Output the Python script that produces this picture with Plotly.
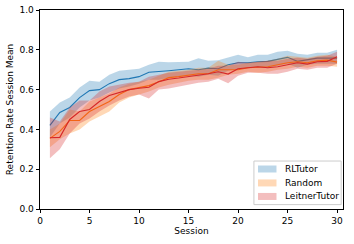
import plotly.graph_objects as go

sessions = list(range(1, 31))

rl_mean = [0.42, 0.485, 0.51, 0.56, 0.595, 0.60, 0.63, 0.65, 0.655, 0.665, 0.687, 0.69, 0.695, 0.70, 0.705,
           0.70, 0.708, 0.705, 0.725, 0.735, 0.735, 0.74, 0.742, 0.752, 0.762, 0.742, 0.75, 0.758, 0.758, 0.758]
rl_upper = [0.49, 0.535, 0.56, 0.61, 0.645, 0.64, 0.675, 0.695, 0.70, 0.705, 0.725, 0.74, 0.738, 0.74, 0.74,
            0.758, 0.745, 0.748, 0.76, 0.775, 0.762, 0.775, 0.775, 0.79, 0.795, 0.78, 0.775, 0.785, 0.785, 0.80]
rl_lower = [0.36, 0.43, 0.46, 0.51, 0.545, 0.56, 0.585, 0.605, 0.615, 0.63, 0.65, 0.65, 0.66, 0.665, 0.67,
            0.665, 0.675, 0.67, 0.695, 0.705, 0.71, 0.71, 0.71, 0.72, 0.73, 0.71, 0.725, 0.73, 0.73, 0.73]

rnd_mean = [0.355, 0.39, 0.445, 0.445, 0.49, 0.515, 0.54, 0.575, 0.60, 0.61, 0.62, 0.64, 0.66, 0.665, 0.672,
            0.68, 0.68, 0.70, 0.70, 0.70, 0.71, 0.712, 0.715, 0.725, 0.735, 0.74, 0.735, 0.745, 0.748, 0.738]
rnd_upper = [0.40, 0.43, 0.50, 0.49, 0.54, 0.56, 0.58, 0.61, 0.63, 0.64, 0.65, 0.67, 0.69, 0.695, 0.70,
             0.71, 0.71, 0.745, 0.725, 0.725, 0.735, 0.74, 0.745, 0.755, 0.77, 0.765, 0.76, 0.77, 0.775, 0.765]
rnd_lower = [0.31, 0.35, 0.38, 0.40, 0.44, 0.465, 0.49, 0.535, 0.56, 0.575, 0.59, 0.61, 0.625, 0.635, 0.645,
             0.65, 0.65, 0.66, 0.675, 0.68, 0.69, 0.685, 0.69, 0.70, 0.705, 0.715, 0.71, 0.72, 0.72, 0.715]

lt_mean = [0.358, 0.36, 0.45, 0.49, 0.50, 0.54, 0.57, 0.585, 0.60, 0.607, 0.612, 0.64, 0.652, 0.658, 0.665,
           0.672, 0.68, 0.69, 0.678, 0.705, 0.71, 0.715, 0.71, 0.715, 0.725, 0.735, 0.728, 0.74, 0.742, 0.765]
lt_upper = [0.46, 0.44, 0.51, 0.545, 0.545, 0.59, 0.615, 0.625, 0.635, 0.64, 0.665, 0.675, 0.685, 0.69, 0.695,
            0.70, 0.705, 0.72, 0.72, 0.74, 0.735, 0.74, 0.745, 0.745, 0.755, 0.76, 0.755, 0.765, 0.77, 0.79]
lt_lower = [0.255, 0.30, 0.38, 0.43, 0.455, 0.49, 0.52, 0.545, 0.565, 0.575, 0.555, 0.60, 0.605, 0.615, 0.625,
            0.635, 0.64, 0.655, 0.632, 0.67, 0.685, 0.685, 0.68, 0.68, 0.69, 0.705, 0.70, 0.71, 0.71, 0.73]

names = ["RLTutor", "Random", "LeitnerTutor"]
line_colors = ["#1f77b4", "#ff7f0e", "#d62728"]
fill_colors = ["rgba(31,119,180,0.3)", "rgba(255,127,14,0.3)", "rgba(214,39,40,0.3)"]
means = [rl_mean, rnd_mean, lt_mean]
lowers = [rl_lower, rnd_lower, lt_lower]
uppers = [rl_upper, rnd_upper, lt_upper]

fig = go.Figure()
for name, mean, lo, up, col, fcol in zip(names, means, lowers, uppers, line_colors, fill_colors):
    fig.add_trace(go.Scatter(x=sessions, y=lo, mode="lines", line=dict(width=0, color=fcol),
                             showlegend=False, hoverinfo="skip"))
    fig.add_trace(go.Scatter(x=sessions, y=up, mode="lines", line=dict(width=0, color=fcol),
                             fill="tonexty", fillcolor=fcol, name=name, showlegend=False))
    fig.add_trace(go.Scatter(x=sessions, y=mean, mode="lines", line=dict(width=1.1, color=col),
                             showlegend=False))

# Custom matplotlib-style legend (box, swatches, labels) in axes-domain coordinates
shapes = [dict(type="rect", xref="x domain", yref="y domain", x0=0.706, x1=0.994, y0=0.022, y1=0.241,
               fillcolor="rgba(255,255,255,0.8)", line=dict(color="#cccccc", width=1), layer="above")]
annotations = []
row_y = [0.201, 0.131, 0.063]
for name, fcol, ry in zip(names, fill_colors, row_y):
    shapes.append(dict(type="rect", xref="x domain", yref="y domain", x0=0.7195, x1=0.7805,
                       y0=ry - 0.0176, y1=ry + 0.0176, fillcolor=fcol, line=dict(width=0), layer="above"))
    annotations.append(dict(xref="x domain", yref="y domain", x=0.803, y=ry, text=name, showarrow=False,
                            xanchor="left", yanchor="middle", font=dict(size=9, color="black")))

axis_common = dict(showgrid=False, zeroline=False, showline=True, linecolor="black", linewidth=0.8,
                   mirror=True, ticks="outside", ticklen=3.5, tickwidth=0.8, tickcolor="black",
                   tickfont=dict(size=9, color="black"), automargin=False)

fig.update_layout(
    width=354, height=244,
    margin=dict(l=40, r=11, t=10, b=35),
    paper_bgcolor="white", plot_bgcolor="white",
    font=dict(family="DejaVu Sans", size=9, color="black"),
    showlegend=False,
    shapes=shapes,
    annotations=annotations,
    xaxis=dict(range=[0, 30.6], tickvals=[0, 5, 10, 15, 20, 25, 30],
               title=dict(text="Session", font=dict(size=9), standoff=2), **axis_common),
    yaxis=dict(range=[0, 1.0], tickvals=[0, 0.2, 0.4, 0.6, 0.8, 1.0], tickformat=".1f",
               title=dict(text="Retention Rate Session Mean", font=dict(size=9), standoff=4), **axis_common),
)

fig.write_html("out.html", config={"displayModeBar": False},
               post_script="document.body.style.margin='0';")
